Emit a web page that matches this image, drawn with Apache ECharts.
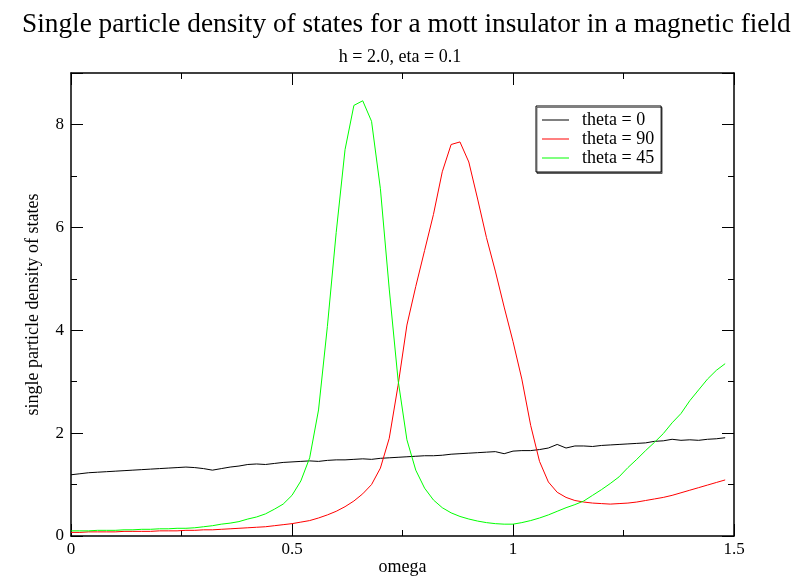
<!DOCTYPE html>
<html>
<head>
<meta charset="utf-8">
<script src="https://cdn.jsdelivr.net/npm/echarts@6/dist/echarts.min.js"></script>
<style>html,body{margin:0;padding:0;background:#fff}#c{width:800px;height:578px}</style>
</head>
<body>
<div id="c"></div>
<script>
var omega = [0.00,0.02,0.04,0.06,0.08,0.10,0.12,0.14,0.16,0.18,0.20,0.22,0.24,0.26,0.28,0.30,0.32,0.34,0.36,0.38,0.40,0.42,0.44,0.46,0.48,0.50,0.52,0.54,0.56,0.58,0.60,0.62,0.64,0.66,0.68,0.70,0.72,0.74,0.76,0.78,0.80,0.82,0.84,0.86,0.88,0.90,0.92,0.94,0.96,0.98,1.00,1.02,1.04,1.06,1.08,1.10,1.12,1.14,1.16,1.18,1.20,1.22,1.24,1.26,1.28,1.30,1.32,1.34,1.36,1.38,1.40,1.42,1.44,1.46,1.48];
var theta0 = [1.19,1.21,1.23,1.24,1.25,1.26,1.27,1.28,1.29,1.30,1.31,1.32,1.33,1.34,1.33,1.31,1.28,1.31,1.34,1.36,1.39,1.40,1.39,1.41,1.43,1.44,1.45,1.46,1.45,1.47,1.48,1.48,1.49,1.50,1.49,1.51,1.52,1.53,1.54,1.55,1.56,1.56,1.57,1.59,1.60,1.61,1.62,1.63,1.64,1.60,1.65,1.66,1.66,1.68,1.71,1.78,1.71,1.75,1.75,1.74,1.76,1.77,1.78,1.79,1.80,1.81,1.84,1.85,1.88,1.86,1.87,1.86,1.88,1.89,1.91];
var theta90 = [0.07,0.07,0.08,0.08,0.08,0.08,0.09,0.09,0.09,0.09,0.10,0.10,0.10,0.11,0.11,0.12,0.12,0.13,0.14,0.15,0.16,0.17,0.18,0.20,0.22,0.24,0.27,0.30,0.35,0.41,0.48,0.57,0.68,0.82,1.00,1.32,1.90,2.93,4.10,4.85,5.55,6.25,7.08,7.61,7.66,7.27,6.55,5.80,5.15,4.45,3.78,3.05,2.15,1.45,1.05,0.85,0.75,0.69,0.66,0.64,0.63,0.62,0.63,0.64,0.66,0.69,0.72,0.75,0.79,0.84,0.89,0.94,0.99,1.04,1.09];
var theta45 = [0.10,0.10,0.10,0.11,0.11,0.11,0.12,0.12,0.13,0.13,0.14,0.14,0.15,0.15,0.16,0.18,0.20,0.23,0.25,0.28,0.33,0.37,0.43,0.52,0.62,0.79,1.07,1.52,2.45,4.07,5.90,7.51,8.37,8.46,8.06,6.75,4.80,3.03,1.87,1.28,0.93,0.70,0.55,0.45,0.38,0.33,0.29,0.26,0.24,0.23,0.23,0.26,0.30,0.35,0.41,0.48,0.55,0.61,0.68,0.79,0.90,1.02,1.15,1.33,1.49,1.66,1.82,1.99,2.20,2.38,2.63,2.84,3.05,3.22,3.35];
var seriesNames = ['theta = 0','theta = 90','theta = 45'];
var seriesColors = ['#000000','#ff0000','#00ff00'];
var xTicks = [0,0.5,1,1.5];
var yTicks = [0,2,4,6,8];

function pairs(ys){ return omega.map(function(x,i){ return [x, ys[i]]; }); }
var font = 'Liberation Serif, Times New Roman, serif';
var chart = echarts.init(document.getElementById('c'));
var axisCommon = {
  axisLine:{show:true, onZero:false, lineStyle:{color:'#000', width:1.5}},
  axisTick:{show:true, inside:true, length:12, lineStyle:{color:'#000', width:1}},
  minorTick:{show:true, splitNumber:2, length:6, lineStyle:{color:'#000', width:1}},
  splitLine:{show:false}
};
function ax(extra){ return Object.assign({}, JSON.parse(JSON.stringify(axisCommon)), extra); }
chart.setOption({
  animation:false,
  backgroundColor:'#fff',
  title:[
    {text:'Single particle density of states for a mott insulator in a magnetic field', left:17, top:6,
     textStyle:{fontFamily:font, fontSize:27.3, fontWeight:'normal', color:'#000'}},
    {text:'h = 2.0, eta = 0.1', left:'center', top:43,
     textStyle:{fontFamily:font, fontSize:18, fontWeight:'normal', color:'#000'}}
  ],
  grid:{left:71, right:66, top:73, bottom:42, containLabel:false, outerBoundsMode:'none'},
  legend:{
    orient:'vertical', left:536, top:106, data:seriesNames,
    borderColor:'#000', borderWidth:1, padding:[5,7,5,6], itemGap:1, itemWidth:27, itemHeight:18,
    icon:'path://M0,9 L27,9 L27,10 L0,10 Z',
    textStyle:{fontFamily:font, fontSize:18, color:'#000', padding:[0,0,0,8]},
    backgroundColor:'#fff', shadowColor:'rgba(0,0,0,0.5)', shadowOffsetX:1, shadowOffsetY:1.5
  },
  xAxis:[
    ax({type:'value', position:'bottom', min:0, max:1.5, interval:0.5,
      name:'omega', nameLocation:'middle', nameGap:22, nameMoveOverlap:false,
      nameTextStyle:{fontFamily:font, fontSize:18, color:'#000', verticalAlign:'top'},
      axisLabel:{fontFamily:font, fontSize:17, color:'#000', margin:5,
        formatter:function(v){ return xTicks.indexOf(+v.toFixed(2))>=0 ? String(+v.toFixed(2)) : ''; }}}),
    ax({type:'value', position:'top', min:0, max:1.5, interval:0.5, axisLabel:{show:false}})
  ],
  yAxis:[
    ax({type:'value', position:'left', min:0, max:9, interval:2,
      name:'single particle density of states', nameLocation:'middle', nameGap:29, nameMoveOverlap:false,
      nameTextStyle:{fontFamily:font, fontSize:18, color:'#000'},
      axisLabel:{fontFamily:font, fontSize:17, color:'#000', margin:7,
        formatter:function(v){ return yTicks.indexOf(v)>=0 ? String(v) : ''; }}}),
    ax({type:'value', position:'right', min:0, max:9, interval:2, axisLabel:{show:false}})
  ],
  series:[theta0, theta90, theta45].map(function(ys, i){
    return {name:seriesNames[i], type:'line', data:pairs(ys), symbol:'none', smooth:false,
      lineStyle:{color:seriesColors[i], width:1}, itemStyle:{color:seriesColors[i]}, z:3};
  })
});
</script>
</body>
</html>
